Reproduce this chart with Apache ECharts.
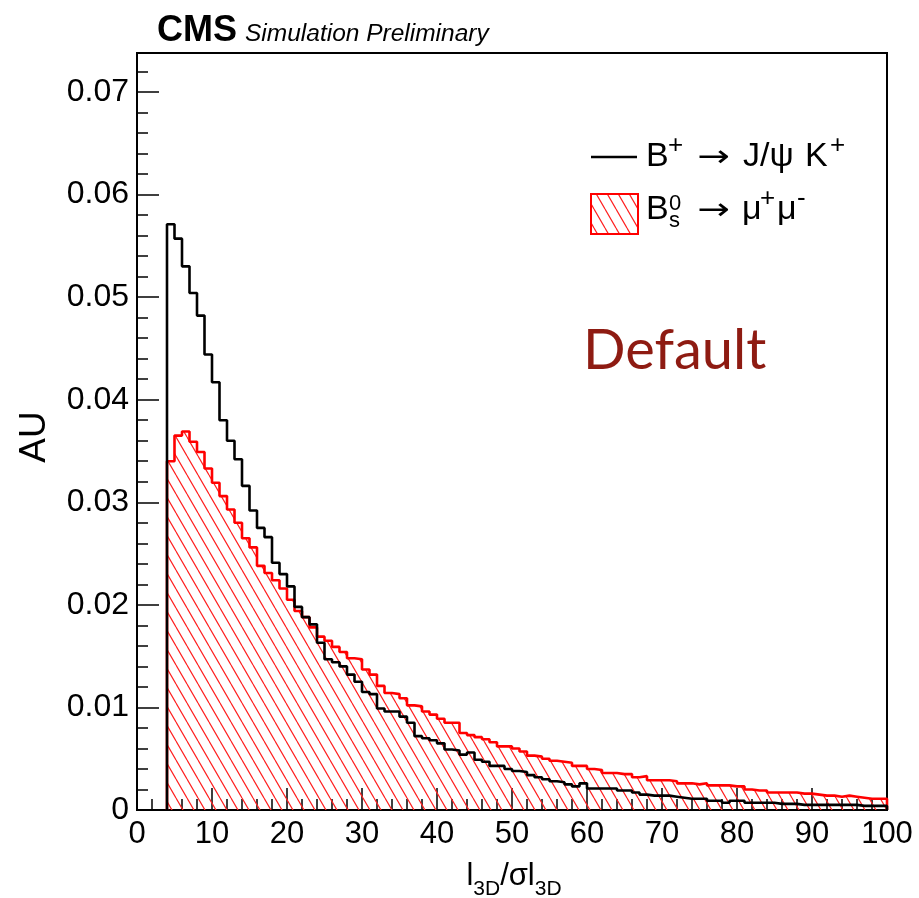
<!DOCTYPE html>
<html>
<head>
<meta charset="utf-8">
<title>l3D significance</title>
<script src="https://cdn.jsdelivr.net/npm/echarts@6/dist/echarts.min.js"></script>
<style>
  html, body { margin: 0; padding: 0; background: #fff; }
  #chart { width: 919px; height: 898px; }
</style>
</head>
<body>
<div id="chart"></div>
<script>
// Histogram binning: unit-width bins starting at 4
const binStart = 4;
const binWidth = 1;

// B+ -> J/psi K+ (normalised), bins 4..99
const bplusVals = [
  0.0571, 0.0557, 0.0530, 0.0504, 0.0482, 0.0444, 0.0417, 0.0380, 0.0360, 0.0342,
  0.0316, 0.0292, 0.0275, 0.0266, 0.0241, 0.0230, 0.0218, 0.0198, 0.0188, 0.0181,
  0.0163, 0.0147, 0.0144, 0.0140, 0.0132, 0.0125, 0.0115, 0.0113, 0.0099, 0.0096,
  0.0096, 0.0091, 0.0085, 0.0072, 0.0070, 0.0068, 0.0065, 0.0059, 0.0058, 0.0054,
  0.0056, 0.0049, 0.0047, 0.0043, 0.0043, 0.0040, 0.0038, 0.0037, 0.0034, 0.0032,
  0.0030, 0.0028, 0.0027, 0.0025, 0.0023, 0.0026, 0.0021, 0.0021, 0.0021, 0.0021,
  0.0019, 0.0019, 0.0017, 0.0015, 0.0014, 0.0014, 0.0014, 0.0013, 0.0012, 0.0011,
  0.0011, 0.0011, 0.0009, 0.0009, 0.0007, 0.0009, 0.0009, 0.0007, 0.0007, 0.0007,
  0.0007, 0.0006, 0.0006, 0.0006, 0.0005, 0.0005, 0.0005, 0.0005, 0.0005, 0.0005,
  0.0005, 0.0005, 0.0004, 0.0004, 0.0004, 0.0004
];

// Bs0 -> mu+ mu- (normalised), bins 4..99
const bsmumuVals = [
  0.0340, 0.0365, 0.0369, 0.0359, 0.0349, 0.0333, 0.0319, 0.0306, 0.0293, 0.0280,
  0.0265, 0.0256, 0.0238, 0.0231, 0.0224, 0.0216, 0.0205, 0.0194, 0.0188, 0.0178,
  0.0169, 0.0165, 0.0159, 0.0154, 0.0148, 0.0147, 0.0137, 0.0132, 0.0121, 0.0114,
  0.0113, 0.0109, 0.0102, 0.0101, 0.0096, 0.0093, 0.0089, 0.0085, 0.0085, 0.0075,
  0.0073, 0.0071, 0.0069, 0.0066, 0.0062, 0.0062, 0.0060, 0.0057, 0.0053, 0.0052,
  0.0050, 0.0048, 0.0047, 0.0046, 0.0043, 0.0043, 0.0040, 0.0039, 0.0036, 0.0036,
  0.0035, 0.0035, 0.0032, 0.0033, 0.0029, 0.0029, 0.0029, 0.0028, 0.0026, 0.0026,
  0.0025, 0.0026, 0.0024, 0.0024, 0.0024, 0.0023, 0.0023, 0.0020, 0.0019, 0.0019,
  0.0017, 0.0017, 0.0017, 0.0017, 0.0016, 0.0016, 0.0015, 0.0014, 0.0014, 0.0013,
  0.0014, 0.0013, 0.0012, 0.0011, 0.0011, 0.0011
];

// Axis ranges and tick spacing
const xRange = [0, 100];
const yRange = [0, 0.0738];
const xTickStep = 10;
const yTickStep = 0.01;

const FONT = '"Liberation Sans", Arial, Helvetica, sans-serif';
const ARROW_FONT = '"DejaVu Sans", sans-serif';

// Step outline points: vertical edge at the first bin, one point per bin, closing edge at the end
function toSteps(vals) {
  const pts = [[binStart, 0]];
  vals.forEach((v, i) => pts.push([binStart + i * binWidth, v]));
  const end = binStart + vals.length * binWidth;
  pts.push([end, vals[vals.length - 1]]);
  pts.push([end, 0]);
  return pts;
}

// Diagonal red hatch tile (lines running top-left to bottom-right)
function makeHatch() {
  const w = 11, h = 19;
  const c = document.createElement('canvas');
  c.width = w; c.height = h;
  const g = c.getContext('2d');
  g.strokeStyle = '#ff2020';
  g.lineWidth = 1.2;
  g.beginPath();
  for (let k = -1; k <= 1; k++) {
    g.moveTo(k * w, 0);
    g.lineTo(k * w + w, h);
  }
  g.stroke();
  return c;
}
const hatch = makeHatch();

// Small helpers for legend text pieces
function txt(text, x, y, size) {
  return {
    type: 'text', x: x, y: y,
    style: { text: text, fontSize: size, fontFamily: FONT, fill: '#000', verticalAlign: 'middle' }
  };
}
function arrow(x, y) {
  return {
    type: 'text', x: x, y: y, scaleX: 1.3,
    style: { text: '→', fontSize: 30, fontFamily: ARROW_FONT, fill: '#000', verticalAlign: 'middle' }
  };
}

const chart = echarts.init(document.getElementById('chart'), null, { renderer: 'canvas' });

const option = {
  animation: false,
  backgroundColor: '#fff',
  grid: {
    left: 137, right: 32, top: 53, bottom: 88,
    show: true, borderColor: '#000', borderWidth: 2, backgroundColor: 'transparent'
  },
  xAxis: {
    type: 'value',
    min: xRange[0], max: xRange[1], interval: xTickStep,
    axisLine: { show: true, onZero: false, lineStyle: { color: '#000', width: 2 } },
    axisTick: { show: true, inside: true, length: 22, lineStyle: { color: '#000', width: 1.5 } },
    minorTick: { show: true, splitNumber: 5, length: 11, lineStyle: { color: '#000', width: 1.5 } },
    axisLabel: { fontSize: 31, color: '#000', fontFamily: FONT, margin: 9 },
    splitLine: { show: false }
  },
  yAxis: [
    {
      type: 'value',
      min: yRange[0], max: yRange[1], interval: yTickStep,
      axisLine: { show: true, lineStyle: { color: '#000', width: 2 } },
      axisTick: { show: true, inside: true, length: 22, lineStyle: { color: '#000', width: 1.5 } },
      axisLabel: {
        fontSize: 32, color: '#000', fontFamily: FONT, margin: 8, showMaxLabel: false,
        formatter: v => (v === 0 ? '0' : v.toFixed(2))
      },
      splitLine: { show: false }
    },
    {
      type: 'value', position: 'left',
      min: yRange[0], max: yRange[1], interval: yTickStep / 5,
      axisLine: { show: false },
      axisTick: { show: true, inside: true, length: 11, lineStyle: { color: '#000', width: 1.5 } },
      axisLabel: { show: false },
      splitLine: { show: false }
    }
  ],
  series: [
    {
      name: 'Bs0 -> mu+ mu-',
      type: 'line', step: 'end', yAxisIndex: 0,
      data: toSteps(bsmumuVals),
      symbol: 'none',
      lineStyle: { color: '#ff0000', width: 2.6 },
      areaStyle: { color: { image: hatch, repeat: 'repeat' }, opacity: 1 },
      z: 2
    },
    {
      name: 'B+ -> J/psi K+',
      type: 'line', step: 'end', yAxisIndex: 0,
      data: toSteps(bplusVals),
      symbol: 'none',
      lineStyle: { color: '#000', width: 2.6 },
      z: 3
    }
  ],
  graphic: [
    // header
    { type: 'text', x: 157, y: 31, style: { text: 'CMS', fontSize: 36, fontWeight: 'bold', fontFamily: FONT, fill: '#000', verticalAlign: 'middle' } },
    { type: 'text', x: 245, y: 34, style: { text: 'Simulation Preliminary', fontSize: 24.5, fontStyle: 'italic', fontFamily: FONT, fill: '#000', verticalAlign: 'middle' } },
    // axis titles
    { type: 'text', x: 35, y: 437, rotation: Math.PI / 2, style: { text: 'AU', fontSize: 37, fontFamily: FONT, fill: '#000', align: 'center', verticalAlign: 'middle' } },
    {
      type: 'text', x: 514, y: 876,
      style: {
        text: '{n|l}{sub|3D}{n|/σl}{sub|3D}', fontFamily: FONT, fill: '#000', align: 'center', verticalAlign: 'middle',
        rich: {
          n: { fontSize: 31, fontFamily: FONT, fill: '#000' },
          sub: { fontSize: 21, fontFamily: FONT, fill: '#000', verticalAlign: 'bottom', padding: [0, 0, -8, 0] }
        }
      }
    },
    // legend, first entry
    { type: 'line', shape: { x1: 591, y1: 157, x2: 637, y2: 157 }, style: { stroke: '#000', lineWidth: 2.6 } },
    txt('B', 646, 157, 34),
    txt('+', 668, 146, 26),
    arrow(697, 158),
    txt('J/ψ', 743, 157, 34),
    txt('K', 805, 157, 34),
    txt('+', 830, 146, 26),
    // legend, second entry
    { type: 'rect', shape: { x: 591, y: 194, width: 47, height: 40 }, style: { fill: { image: hatch, repeat: 'repeat' }, stroke: '#ff0000', lineWidth: 2 } },
    txt('B', 646, 210, 34),
    txt('0', 669, 204, 22),
    txt('s', 669, 221, 22),
    arrow(697, 211),
    txt('μ', 742, 210, 34),
    txt('+', 760, 199, 26),
    txt('μ', 777, 210, 34),
    txt('-', 797, 199, 26),
    // selection label
    { type: 'text', x: 583, y: 351, style: { text: 'Default', fontSize: 56, fontFamily: 'Lato, "Open Sans", sans-serif', fill: '#8e1b12', verticalAlign: 'middle' } }
  ]
};

chart.setOption(option);
</script>
</body>
</html>
